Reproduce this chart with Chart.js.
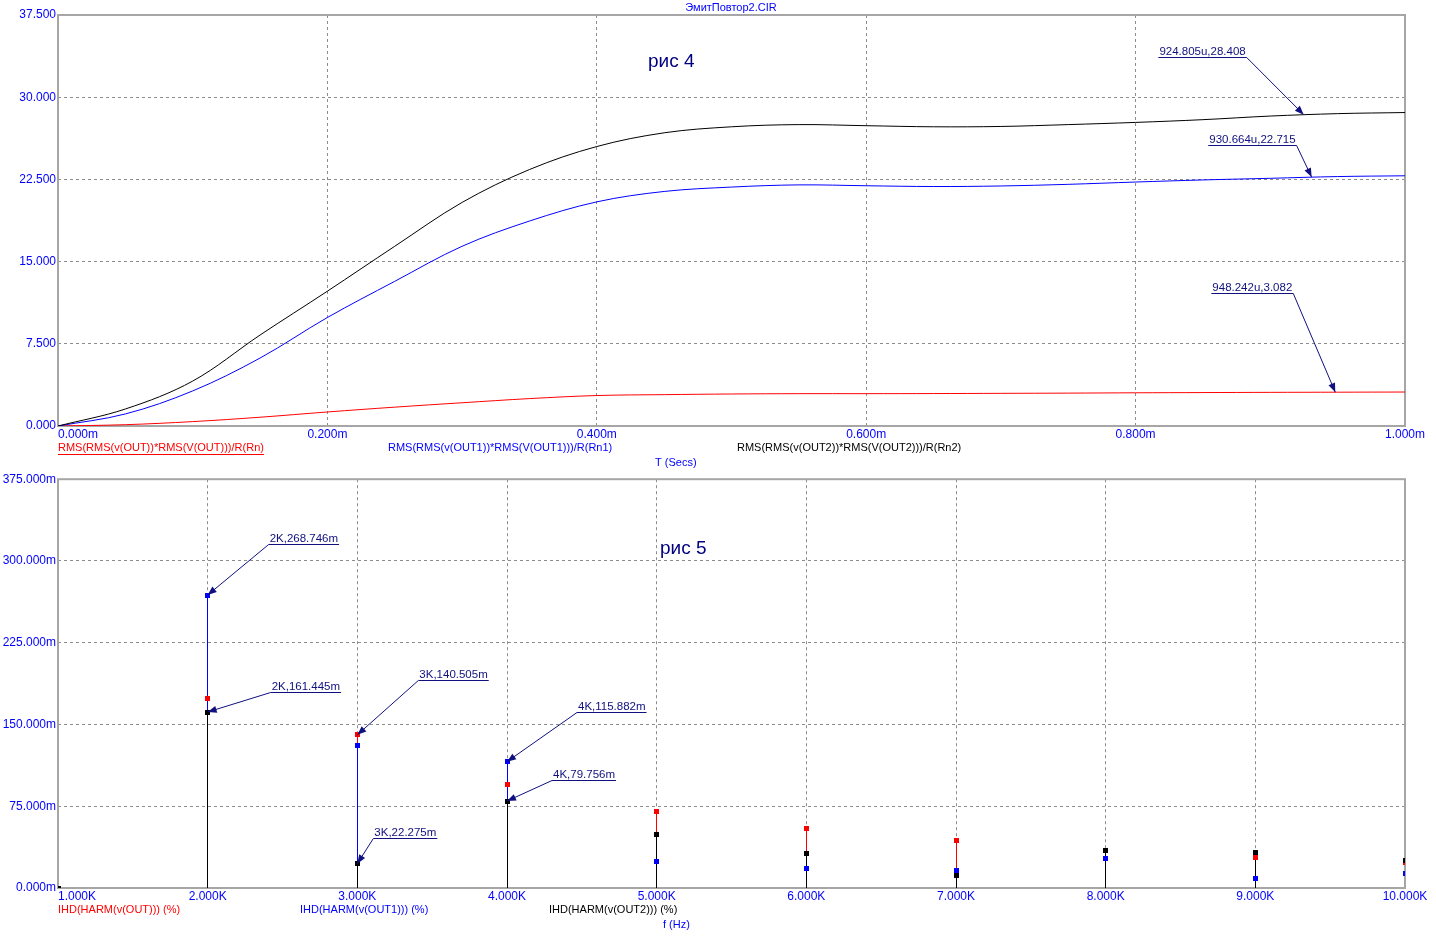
<!DOCTYPE html>
<html>
<head>
<meta charset="utf-8">
<script src="https://cdn.jsdelivr.net/npm/chart.js@4.4.0/dist/chart.umd.min.js"></script>
<style>
  body { margin: 0; background: #fff; }
  #wrap { position: relative; width: 1436px; height: 937px; }
  canvas { position: absolute; left: 0; }
  #top { top: 0; }
  #bottom { top: 470px; }
</style>
</head>
<body>
<div id="wrap">
  <canvas id="top" width="1436" height="470"></canvas>
  <canvas id="bottom" width="1436" height="467"></canvas>
</div>
<script>
// ---- рис 4 : RMS power vs time ----
const timeMs = [0, 0.05, 0.1, 0.15, 0.2, 0.25, 0.3, 0.35, 0.4, 0.45, 0.5,
                0.55, 0.6, 0.65, 0.7, 0.75, 0.8, 0.85, 0.9, 0.95, 1.0];
const rmsOut = [0, 0.12, 0.4, 0.8, 1.28, 1.72, 2.12, 2.5, 2.78, 2.86, 2.92,
                2.95, 2.95, 2.96, 2.98, 3.0, 3.03, 3.05, 3.07, 3.085, 3.1];
const rmsOut1 = [0, 1.1, 3.2, 6.2, 9.9, 13.2, 16.4, 18.7, 20.45, 21.4, 21.8,
                 22.0, 21.92, 21.85, 21.9, 22.05, 22.26, 22.45, 22.6, 22.76, 22.83];
const rmsOut2 = [0, 1.55, 4.1, 8.3, 12.3, 16.4, 20.4, 23.4, 25.5, 26.75, 27.3,
                 27.5, 27.4, 27.3, 27.33, 27.5, 27.7, 27.95, 28.28, 28.5, 28.6];
const topXTicks = ['0.000m', '0.200m', '0.400m', '0.600m', '0.800m', '1.000m'];
const topYTicks = ['0.000', '7.500', '15.000', '22.500', '30.000', '37.500'];
const topMarkT = [0.924805, 0.930664, 0.948242];
const topMarkV = [28.408, 22.715, 3.082];

// ---- рис 5 : harmonic distortion vs frequency ----
const freqHz = [1000, 2000, 3000, 4000, 5000, 6000, 7000, 8000, 9000, 10000];
const ihdOut = [0, 174, 140.505, 95, 70.5, 55, 43.5, 34.4, 28, 23];
const ihdOut1 = [0, 268.746, 131, 115.882, 24.6, 18, 15.8, 27.1, 8.8, 13];
const ihdOut2 = [0, 161.445, 22.275, 79.756, 49.3, 31.9, 11.2, 34.4, 32.8, 25.5];
const botXTicks = ['1.000K', '2.000K', '3.000K', '4.000K', '5.000K',
                   '6.000K', '7.000K', '8.000K', '9.000K', '10.000K'];
const botYTicks = ['0.000m', '75.000m', '150.000m', '225.000m', '300.000m', '375.000m'];
const botMarkF = [2000, 2000, 3000, 3000, 4000, 4000];
const botMarkV = [268.746, 161.445, 140.505, 22.275, 115.882, 79.756];

// label placement (pixels from the marked point to the underline end)
const topMarkOffsets = [[-57, -58], [-15, -32], [-42, -99]];
const botMarkOffsets = [[61, -51], [63, -20], [61, -55], [16, -26], [70, -50], [45, -21]];

const FAMILY = '"Liberation Sans", Arial, sans-serif';
const BLUE = '#0000ff';
const RED = '#ff0000';
const NAVY = '#101080';
const GRID = '#8c8c8c';

function drawFrame(chart) {
  const a = chart.chartArea, ctx = chart.ctx;
  ctx.save();
  ctx.strokeStyle = '#a6a6a6';
  ctx.lineWidth = 2;
  ctx.strokeRect(a.left, a.top, a.right - a.left, a.bottom - a.top);
  ctx.restore();
}

function drawXTicks(chart, labels) {
  const sc = chart.scales.x, ctx = chart.ctx, a = chart.chartArea;
  ctx.save();
  ctx.font = '12px ' + FAMILY;
  ctx.fillStyle = BLUE;
  ctx.textBaseline = 'top';
  sc.ticks.forEach((t, i) => {
    const px = sc.getPixelForValue(t.value);
    ctx.textAlign = i === 0 ? 'left' : 'center';
    ctx.fillText(labels[i], px, a.bottom + 3);
  });
  ctx.restore();
}

function drawText(ctx, text, x, y, color, size, underline) {
  ctx.save();
  ctx.font = size + 'px ' + FAMILY;
  ctx.fillStyle = color;
  ctx.textAlign = 'left';
  ctx.textBaseline = 'middle';
  ctx.fillText(text, x, y);
  if (underline) {
    const w = ctx.measureText(text).width;
    ctx.strokeStyle = color;
    ctx.lineWidth = 1;
    ctx.beginPath();
    ctx.moveTo(x, Math.round(y + size / 2) + 0.5);
    ctx.lineTo(x + w, Math.round(y + size / 2) + 0.5);
    ctx.stroke();
  }
  ctx.restore();
}

function drawMark(ctx, tx, ty, dx, dy, text) {
  ctx.save();
  ctx.font = '11.5px ' + FAMILY;
  const w = ctx.measureText(text).width + 2;
  const ax = tx + dx, ay = Math.round(ty + dy) + 0.5;
  const left = dx < 0 ? ax - w : ax;
  ctx.strokeStyle = NAVY;
  ctx.fillStyle = NAVY;
  ctx.lineWidth = 1;
  ctx.beginPath();
  ctx.moveTo(left, ay);
  ctx.lineTo(left + w, ay);
  ctx.stroke();
  ctx.textAlign = 'left';
  ctx.textBaseline = 'alphabetic';
  ctx.fillText(text, left + 1, ay - 2.5);
  ctx.beginPath();
  ctx.moveTo(ax, ay);
  ctx.lineTo(tx, ty);
  ctx.stroke();
  const ang = Math.atan2(ty - ay, tx - ax), L = 9, W = 3.5;
  const bx = tx - L * Math.cos(ang), by = ty - L * Math.sin(ang);
  ctx.beginPath();
  ctx.moveTo(tx, ty);
  ctx.lineTo(bx + W * Math.sin(ang), by - W * Math.cos(ang));
  ctx.lineTo(bx - W * Math.sin(ang), by + W * Math.cos(ang));
  ctx.closePath();
  ctx.fill();
  ctx.restore();
}

function yScale(max, step, labels) {
  return {
    type: 'linear',
    min: 0,
    max: max,
    afterFit: (s) => { s.width = 58; },
    grid: { color: GRID, lineWidth: 1, drawTicks: false },
    border: { display: false, dash: [3, 3] },
    ticks: {
      stepSize: step,
      padding: 2,
      color: BLUE,
      font: { family: FAMILY, size: 12 },
      callback: (v, i) => labels[i]
    }
  };
}

// ---------- top chart ----------
const topPlugin = {
  id: 'topDecor',
  beforeDatasetsDraw(chart) { drawFrame(chart); },
  afterDraw(chart) {
    const ctx = chart.ctx;
    drawXTicks(chart, topXTicks);
    const x = chart.scales.x, y = chart.scales.y;
    topMarkT.forEach((t, i) => {
      const txt = (t * 1000).toFixed(3) + 'u,' + topMarkV[i].toFixed(3);
      drawMark(ctx, x.getPixelForValue(t), y.getPixelForValue(topMarkV[i]),
               topMarkOffsets[i][0], topMarkOffsets[i][1], txt);
    });
    ctx.save();
    ctx.font = '11px ' + FAMILY;
    ctx.fillStyle = BLUE;
    ctx.textAlign = 'center';
    ctx.textBaseline = 'middle';
    ctx.fillText('ЭмитПовтор2.CIR', 731, 8);
    ctx.restore();
    drawText(ctx, 'рис 4', 648, 62, '#000080', 19, false);
    drawText(ctx, 'RMS(RMS(v(OUT))*RMS(V(OUT)))/R(Rn)', 58, 448, RED, 11, true);
    drawText(ctx, 'RMS(RMS(v(OUT1))*RMS(V(OUT1)))/R(Rn1)', 388, 448, BLUE, 11, false);
    drawText(ctx, 'RMS(RMS(v(OUT2))*RMS(V(OUT2)))/R(Rn2)', 737, 448, '#000000', 11, false);
    drawText(ctx, 'T (Secs)', 655, 463, BLUE, 11, false);
  }
};

new Chart(document.getElementById('top'), {
  type: 'line',
  data: {
    datasets: [
      { data: timeMs.map((t, i) => ({ x: t, y: rmsOut2[i] })), borderColor: '#000000' },
      { data: timeMs.map((t, i) => ({ x: t, y: rmsOut1[i] })), borderColor: BLUE },
      { data: timeMs.map((t, i) => ({ x: t, y: rmsOut[i] })), borderColor: RED }
    ]
  },
  options: {
    responsive: false,
    animation: false,
    layout: { padding: { top: 15, right: 31, left: 0, bottom: 0 } },
    elements: {
      line: { borderWidth: 1, tension: 0.35 },
      point: { radius: 0 }
    },
    plugins: { legend: { display: false }, tooltip: { enabled: false } },
    scales: {
      x: {
        type: 'linear',
        min: 0,
        max: 1,
        afterFit: (s) => { s.height = 44; },
        grid: { color: GRID, lineWidth: 1, drawTicks: false },
        border: { display: false, dash: [3, 3] },
        ticks: { stepSize: 0.2, display: false }
      },
      y: yScale(37.5, 7.5, topYTicks)
    }
  },
  plugins: [topPlugin]
});

// ---------- bottom chart ----------
const botPlugin = {
  id: 'botDecor',
  afterDatasetsUpdate(chart) {
    // snap stems and squares onto whole pixels so they stay 1px sharp
    chart.data.datasets.forEach((ds, i) => {
      chart.getDatasetMeta(i).data.forEach((el) => {
        el.x = Math.floor(el.x) + 0.5;
        if (ds.type === 'bar') {
          el.y = Math.round(el.y);
          el.base = Math.round(el.base);
        } else {
          el.y = Math.floor(el.y) + 0.5;
        }
      });
    });
  },
  beforeDatasetsDraw(chart) { drawFrame(chart); },
  afterDraw(chart) {
    const ctx = chart.ctx;
    drawXTicks(chart, botXTicks);
    const x = chart.scales.x, y = chart.scales.y;
    botMarkF.forEach((f, i) => {
      const txt = (f / 1000) + 'K,' + botMarkV[i].toFixed(3) + 'm';
      drawMark(ctx, x.getPixelForValue(f), y.getPixelForValue(botMarkV[i]),
               botMarkOffsets[i][0], botMarkOffsets[i][1], txt);
    });
    drawText(ctx, 'рис 5', 660, 79, '#000080', 19, false);
    drawText(ctx, 'IHD(HARM(v(OUT))) (%)', 58, 440, RED, 11, false);
    drawText(ctx, 'IHD(HARM(v(OUT1))) (%)', 300, 440, BLUE, 11, false);
    drawText(ctx, 'IHD(HARM(v(OUT2))) (%)', 549, 440, '#000000', 11, false);
    drawText(ctx, 'f (Hz)', 663, 455, BLUE, 11, false);
  }
};

function stems(vals, color, order) {
  return {
    type: 'bar',
    data: freqHz.map((f, i) => ({ x: f, y: vals[i] })),
    backgroundColor: color,
    borderWidth: 0,
    barThickness: 1,
    inflateAmount: 0,
    grouped: false,
    order: order
  };
}
function marks(vals, color, order) {
  return {
    type: 'line',
    data: freqHz.map((f, i) => ({ x: f, y: vals[i] })),
    showLine: false,
    pointStyle: 'rect',
    pointRadius: 3.54,
    pointBorderWidth: 0,
    pointBackgroundColor: color,
    pointBorderColor: color,
    clip: 0,
    order: order
  };
}

new Chart(document.getElementById('bottom'), {
  type: 'bar',
  data: {
    datasets: [
      stems(ihdOut, RED, 6),
      stems(ihdOut1, BLUE, 5),
      stems(ihdOut2, '#000000', 4),
      marks(ihdOut, RED, 3),
      marks(ihdOut1, BLUE, 2),
      marks(ihdOut2, '#000000', 1)
    ]
  },
  options: {
    responsive: false,
    animation: false,
    layout: { padding: { top: 7, right: 31, left: 0, bottom: 0 } },
    plugins: { legend: { display: false }, tooltip: { enabled: false } },
    scales: {
      x: {
        type: 'linear',
        min: 1000,
        max: 10000,
        offset: false,
        afterFit: (s) => { s.height = 49; },
        grid: { color: GRID, lineWidth: 1, drawTicks: false, offset: false },
        border: { display: false, dash: [3, 3] },
        ticks: { stepSize: 1000, display: false }
      },
      y: yScale(375, 75, botYTicks)
    }
  },
  plugins: [botPlugin]
});
</script>
</body>
</html>
